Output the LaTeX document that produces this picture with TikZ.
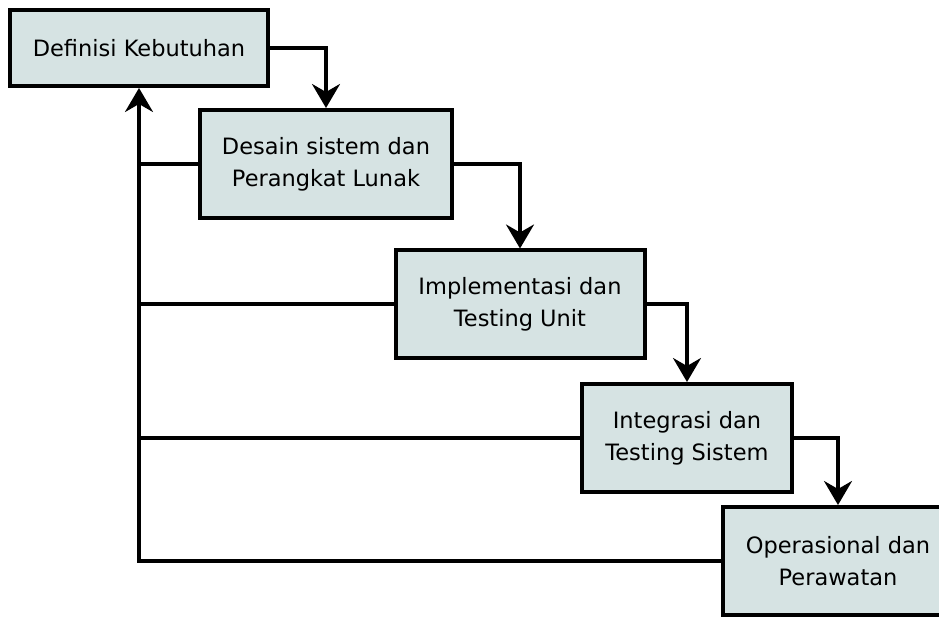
\documentclass[tikz,border=0pt]{standalone}
\usepackage{fontspec}
\setmainfont{DejaVu Sans}
\usetikzlibrary{arrows.meta,positioning}
\definecolor{kotak}{RGB}{214,227,227}
\tikzset{
  tahap/.style={draw,line width=4pt,fill=kotak,align=center,inner sep=0pt,
    font=\fontsize{22.5}{32}\selectfont},
  alur/.style={line width=3.5pt}
}

\begin{document}
\begin{tikzpicture}[x=1pt,y=-1pt,>={Stealth[length=24pt,width=28pt,inset=8pt]}]
\useasboundingbox (0,0) rectangle (939,617);
\clip (0,0) rectangle (939,617);
% tahapan
\node[tahap,minimum width=258pt,minimum height=76pt] (def) at (139,48) {Definisi Kebutuhan};
\node[tahap,minimum width=252pt,minimum height=108pt] (desain) at (326,164) {Desain sistem dan\\Perangkat Lunak};
\node[tahap,minimum width=249pt,minimum height=107pt] (impl) at (520,304) {Implementasi dan\\Testing Unit};
\node[tahap,minimum width=210pt,minimum height=108pt] (integ) at (687,438) {Integrasi dan\\Testing Sistem};
\node[tahap,minimum width=230pt,minimum height=108pt] (oper) at (838,561) {Operasional dan\\Perawatan};
% alur maju
\draw[alur,->] (def.east) -| (desain.north);
\draw[alur,->] (desain.east) -| (impl.north);
\draw[alur,->] (impl.east) -| (integ.north);
\draw[alur,->] (integ.east) -| (oper.north);
% umpan balik
\draw[alur,->] (oper.west) -| (def.south);
\draw[alur] (desain.west) -- (desain.west -| def.south);
\draw[alur] (impl.west) -- (impl.west -| def.south);
\draw[alur] (integ.west) -- (integ.west -| def.south);
\end{tikzpicture}
\end{document}
